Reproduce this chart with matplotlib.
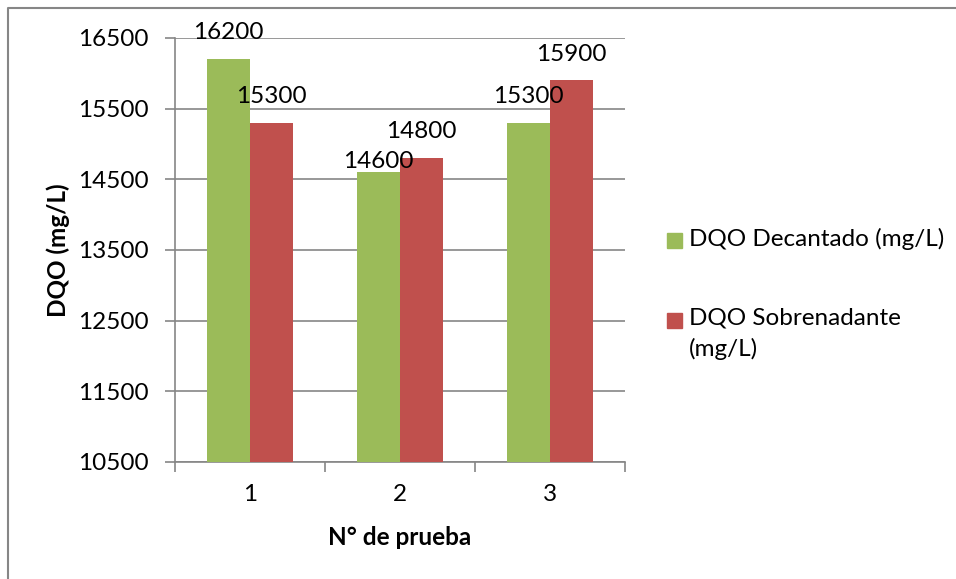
import matplotlib
matplotlib.use("Agg")
import matplotlib.pyplot as plt
import numpy as np
from matplotlib.patches import Rectangle
from matplotlib.lines import Line2D

# datos de las pruebas
pruebas = [1, 2, 3]
dqo_decantado = [16200, 14600, 15300]
dqo_sobrenadante = [15300, 14800, 15900]
series = ["DQO Decantado (mg/L)", "DQO Sobrenadante\n(mg/L)"]
colores = ["#9BBB59", "#C0504D"]
yticks = [10500, 11500, 12500, 13500, 14500, 15500, 16500]

plt.rcParams['font.family'] = ['Lato', 'DejaVu Sans']
W, H = 956, 579
fs = 17.5
fig = plt.figure(figsize=(W / 100, H / 100), dpi=100)
ax = fig.add_axes([175 / W, 1 - 462 / H, 450 / W, 424 / H])

x = np.arange(len(pruebas)) + 1
ancho = 1 / 3.5
gris = "#868686"

ax.bar(x - ancho / 2, dqo_decantado, ancho, color=colores[0], zorder=3)
ax.bar(x + ancho / 2, dqo_sobrenadante, ancho, color=colores[1], zorder=3)

# desplazamiento vertical de cada etiqueta (pt); la de 14600 quedo mas baja
desp = [[19, 8, 19], [19, 19, 19]]
for k, (xs, vals) in enumerate([(x - ancho / 2, dqo_decantado),
                                (x + ancho / 2, dqo_sobrenadante)]):
    for j, (xi, v) in enumerate(zip(xs, vals)):
        ax.annotate(str(v), (xi, v), xytext=(0, desp[k][j]), textcoords="offset points",
                    ha="center", va="center", fontsize=fs, zorder=5,
                    annotation_clip=False)

ax.set_ylim(10500, 16500)
ax.set_xlim(0.5, 3.5)
ax.set_yticks(yticks)
ax.set_xticks(x)
ax.set_xticklabels([str(p) for p in pruebas])
ax.set_xticks([0.5, 1.5, 2.5, 3.5], minor=True)
ax.tick_params(axis="x", which="major", length=0, labelsize=fs, pad=16)
ax.tick_params(axis="x", which="minor", length=7, direction="out", color=gris, width=1.2)
ax.tick_params(axis="y", length=7, direction="out", color=gris, width=1.2,
               labelsize=fs, pad=12)
ax.yaxis.grid(True, color=gris, linewidth=1.2, zorder=0)
for lado in ["top", "right"]:
    ax.spines[lado].set_visible(False)
for lado in ["left", "bottom"]:
    ax.spines[lado].set_color(gris)
    ax.spines[lado].set_linewidth(1.2)

ax.set_ylabel("DQO (mg/L)", fontsize=fs, fontweight="bold")
ax.yaxis.set_label_coords(-0.233, 0.5)
ax.set_xlabel("N° de prueba", fontsize=fs, fontweight="bold", labelpad=15)

# leyenda a mano, al estilo de Excel
for i, (nombre, c) in enumerate(zip(series, colores)):
    yc = 240 + 80 * i
    fig.patches.append(Rectangle((667 / W, 1 - (yc + 7.5) / H), 15 / W, 15 / H,
                                 transform=fig.transFigure, color=c))
    fig.text(689 / W, 1 - (yc - 12) / H, nombre, fontsize=fs, va="top",
             ha="left", linespacing=1.48)

# borde del grafico
fig.lines.append(Line2D([7.5 / W, 7.5 / W, 1.0], [0.0, 1 - 7.5 / H, 1 - 7.5 / H],
                        transform=fig.transFigure, color=gris, linewidth=1.5))

fig.savefig("out.png", dpi=100)
